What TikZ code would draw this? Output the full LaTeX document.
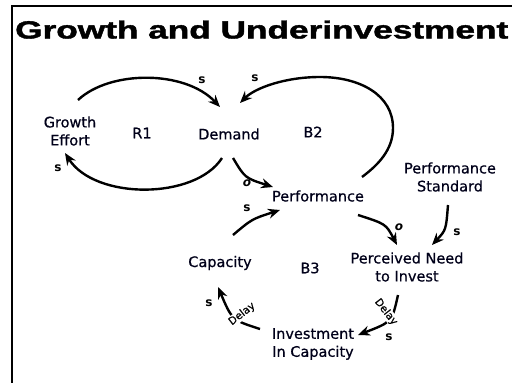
\documentclass[tikz,border=0pt]{standalone}
\usepackage{fontspec}
\setmainfont{DejaVu Sans}
\newfontfamily\bodyfont{DejaVu Sans}[FakeBold=0.6]
\newfontfamily\titlefont{Liberation Sans Bold}[FakeBold=1.5]
\usetikzlibrary{arrows.meta}
\begin{document}
\begin{tikzpicture}[x=1pt,y=-1pt,
  lbl/.style={font=\bodyfont\fontsize{14.5}{18}\selectfont, align=center, inner sep=0pt, text=black!90!blue},
  pol/.style={font=\fontsize{12}{13}\selectfont\bfseries, inner sep=0pt},
  dly/.style={font=\bodyfont\fontsize{10.5}{11}\selectfont, fill=white, inner sep=0.5pt},
  arr/.style={line width=2.4pt, -{Stealth[length=12pt,width=10pt,inset=4pt]}}]
\useasboundingbox (0,0) rectangle (512,383);
\draw[line width=2pt] (11.5,383) -- (11.5,5.5) -- (512,5.5);
\node (title) [anchor=base west, inner sep=0pt] at (15,38.5)
  {\resizebox{493pt}{18pt}{\titlefont Growth and Underinvestment}};
% variables
\node[lbl] (growth) at (70,131) {Growth\\Effort};
\node[lbl] (r1) at (142,133) {R1};
\node[lbl] (demand) at (229,134) {Demand};
\node[lbl] (b2) at (313,132) {B2};
\node[lbl] (perf) at (318,196) {Performance};
\node[lbl] (std) at (450,177) {Performance\\Standard};
\node[lbl] (cap) at (220,263) {Capacity};
\node[lbl] (b3) at (310,268) {B3};
\node[lbl] (need) at (407,267) {Perceived Need\\to Invest};
\node[lbl] (inv) at (313,344) {Investment\\In Capacity};
% endpoints
\coordinate (g1) at (78,100);   \coordinate (d1) at (220,107);
\coordinate (d2) at (222,158);  \coordinate (g2) at (65,153);
\coordinate (p1) at (362,177);  \coordinate (d3) at (240,103);
\coordinate (d4) at (233,158);  \coordinate (p2) at (273,187);
\coordinate (c1) at (233,235);  \coordinate (p3) at (280,210);
\coordinate (p4) at (358,215);  \coordinate (n1) at (397,245);
\coordinate (st1) at (448,205); \coordinate (n2) at (432,245);
\coordinate (n3) at (398,295);  \coordinate (i1) at (358,335);
\coordinate (i2) at (260,329);  \coordinate (c2) at (218,287);
% connectors
\draw[arr] (g1) .. controls (110,70) and (185,70) .. (d1);
\draw[arr] (d2) .. controls (195,200) and (95,200) .. (g2);
\draw[arr] (p1) .. controls (378,165) and (393,150) .. (393,128)
   .. controls (393,95) and (360,77) .. (320,77)
   .. controls (285,77) and (255,88) .. (d3);
\draw[arr] (d4) .. controls (245,178) .. (p2);
\draw[arr] (c1) .. controls (252,219) .. (p3);
\draw[arr] (p4) .. controls (386,224) .. (n1);
\draw[arr] (st1) .. controls (446,230) .. (n2);
\draw[arr] (n3) .. controls (392,322) .. (i1);
\draw[arr] (i2) .. controls (232,320) .. (c2);
% delays
\node[dly, rotate=-52] (dl1) at (386,312) {Delay};
\node[dly, rotate=38] (dl2) at (242,314) {Delay};
% polarities
\node[pol] (s1) at (202,80) {s};
\node[pol] (s2) at (58,168) {s};
\node[pol] (s3) at (255,78) {s};
\node[pol] (o1) at (247,183) {\itshape o};
\node[pol] (s4) at (247,208) {s};
\node[pol] (o2) at (399,227) {\itshape o};
\node[pol] (s5) at (457,232) {s};
\node[pol] (s6) at (389,337) {s};
\node[pol] (s7) at (209,303) {s};
\end{tikzpicture}
\end{document}
